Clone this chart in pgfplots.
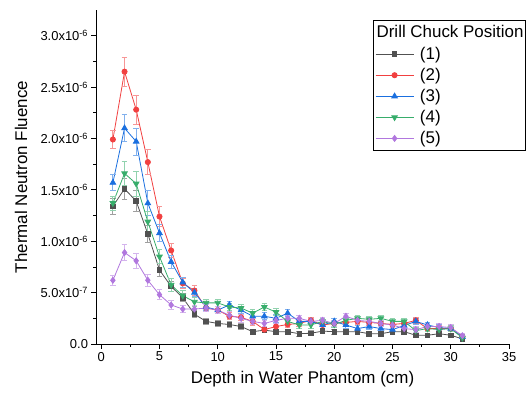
\documentclass[border=0pt]{standalone}
\usepackage{fontspec}
\setmainfont{Liberation Sans}
\usepackage{pgfplots}
\pgfplotsset{compat=1.18}
\usepackage{pgfplotstable}
\definecolor{c1}{HTML}{515151}
\definecolor{c2}{HTML}{F14040}
\definecolor{c3}{HTML}{1A6FDF}
\definecolor{c4}{HTML}{37AD6B}
\definecolor{c5}{HTML}{B177DE}
\pgfplotstableread{
x y e
1 1.34e-6 0.08e-6
2 1.51e-6 0.10e-6
3 1.39e-6 0.10e-6
4 1.07e-6 0.08e-6
5 0.72e-6 0.06e-6
6 0.56e-6 0.05e-6
7 0.45e-6 0.04e-6
8 0.29e-6 0.035e-6
9 0.22e-6 0.03e-6
10 0.20e-6 0.03e-6
11 0.19e-6 0.03e-6
12 0.17e-6 0.03e-6
13 0.12e-6 0.025e-6
14 0.135e-6 0.025e-6
15 0.12e-6 0.025e-6
16 0.12e-6 0.025e-6
17 0.10e-6 0.025e-6
18 0.105e-6 0.025e-6
19 0.125e-6 0.025e-6
20 0.12e-6 0.025e-6
21 0.12e-6 0.025e-6
22 0.12e-6 0.025e-6
23 0.10e-6 0.025e-6
24 0.10e-6 0.025e-6
25 0.12e-6 0.025e-6
26 0.12e-6 0.025e-6
27 0.085e-6 0.02e-6
28 0.085e-6 0.02e-6
29 0.10e-6 0.02e-6
30 0.085e-6 0.02e-6
31 0.05e-6 0.02e-6
}\dataA
\pgfplotstableread{
x y e
1 1.99e-6 0.09e-6
2 2.65e-6 0.14e-6
3 2.28e-6 0.14e-6
4 1.77e-6 0.12e-6
5 1.24e-6 0.10e-6
6 0.91e-6 0.07e-6
7 0.59e-6 0.05e-6
8 0.52e-6 0.05e-6
9 0.35e-6 0.035e-6
10 0.33e-6 0.035e-6
11 0.27e-6 0.035e-6
12 0.26e-6 0.035e-6
13 0.22e-6 0.035e-6
14 0.14e-6 0.03e-6
15 0.17e-6 0.03e-6
16 0.19e-6 0.03e-6
17 0.20e-6 0.03e-6
18 0.23e-6 0.03e-6
19 0.185e-6 0.03e-6
20 0.20e-6 0.03e-6
21 0.21e-6 0.03e-6
22 0.22e-6 0.03e-6
23 0.21e-6 0.03e-6
24 0.20e-6 0.03e-6
25 0.19e-6 0.03e-6
26 0.20e-6 0.03e-6
27 0.23e-6 0.03e-6
28 0.15e-6 0.03e-6
29 0.15e-6 0.03e-6
30 0.15e-6 0.03e-6
31 0.07e-6 0.02e-6
}\dataB
\pgfplotstableread{
x y e
1 1.57e-6 0.08e-6
2 2.10e-6 0.13e-6
3 1.97e-6 0.13e-6
4 1.37e-6 0.12e-6
5 1.08e-6 0.08e-6
6 0.80e-6 0.06e-6
7 0.60e-6 0.05e-6
8 0.50e-6 0.04e-6
9 0.36e-6 0.035e-6
10 0.33e-6 0.035e-6
11 0.38e-6 0.035e-6
12 0.33e-6 0.035e-6
13 0.27e-6 0.035e-6
14 0.27e-6 0.035e-6
15 0.25e-6 0.035e-6
16 0.30e-6 0.035e-6
17 0.22e-6 0.03e-6
18 0.22e-6 0.03e-6
19 0.185e-6 0.03e-6
20 0.22e-6 0.03e-6
21 0.185e-6 0.03e-6
22 0.15e-6 0.03e-6
23 0.17e-6 0.03e-6
24 0.15e-6 0.03e-6
25 0.14e-6 0.03e-6
26 0.18e-6 0.03e-6
27 0.22e-6 0.03e-6
28 0.185e-6 0.03e-6
29 0.16e-6 0.03e-6
30 0.15e-6 0.03e-6
31 0.07e-6 0.02e-6
}\dataC
\pgfplotstableread{
x y e
1 1.37e-6 0.07e-6
2 1.66e-6 0.12e-6
3 1.56e-6 0.12e-6
4 1.19e-6 0.10e-6
5 0.85e-6 0.07e-6
6 0.575e-6 0.06e-6
7 0.47e-6 0.05e-6
8 0.41e-6 0.04e-6
9 0.40e-6 0.035e-6
10 0.40e-6 0.035e-6
11 0.36e-6 0.035e-6
12 0.35e-6 0.035e-6
13 0.30e-6 0.035e-6
14 0.36e-6 0.035e-6
15 0.31e-6 0.035e-6
16 0.22e-6 0.03e-6
17 0.185e-6 0.03e-6
18 0.185e-6 0.03e-6
19 0.22e-6 0.03e-6
20 0.19e-6 0.03e-6
21 0.23e-6 0.03e-6
22 0.25e-6 0.03e-6
23 0.24e-6 0.03e-6
24 0.25e-6 0.03e-6
25 0.22e-6 0.03e-6
26 0.22e-6 0.03e-6
27 0.13e-6 0.03e-6
28 0.15e-6 0.03e-6
29 0.14e-6 0.03e-6
30 0.15e-6 0.03e-6
31 0.06e-6 0.02e-6
}\dataD
\pgfplotstableread{
x y e
1 0.62e-6 0.05e-6
2 0.89e-6 0.08e-6
3 0.81e-6 0.07e-6
4 0.62e-6 0.06e-6
5 0.48e-6 0.05e-6
6 0.38e-6 0.04e-6
7 0.34e-6 0.035e-6
8 0.34e-6 0.035e-6
9 0.35e-6 0.035e-6
10 0.33e-6 0.035e-6
11 0.28e-6 0.035e-6
12 0.25e-6 0.035e-6
13 0.22e-6 0.03e-6
14 0.20e-6 0.03e-6
15 0.23e-6 0.03e-6
16 0.25e-6 0.03e-6
17 0.25e-6 0.03e-6
18 0.22e-6 0.03e-6
19 0.23e-6 0.03e-6
20 0.20e-6 0.03e-6
21 0.27e-6 0.03e-6
22 0.23e-6 0.03e-6
23 0.22e-6 0.03e-6
24 0.20e-6 0.03e-6
25 0.185e-6 0.03e-6
26 0.15e-6 0.03e-6
27 0.14e-6 0.03e-6
28 0.17e-6 0.03e-6
29 0.17e-6 0.03e-6
30 0.16e-6 0.03e-6
31 0.08e-6 0.02e-6
}\dataE
\pgfplotsset{
  ser/.style={#1, line width=0.8bp,
    error bars/.cd, y dir=both, y explicit,
    error bar style={#1!55, line width=0.8bp, solid},
    error mark options={rotate=90, mark size=2.8bp, #1!55, line width=0.8bp}},
}
\begin{document}
\begin{tikzpicture}
\useasboundingbox (-96bp,-52bp) rectangle (432bp,344bp);
\begin{axis}[
  at={(0,0)}, anchor=south west,
  scale only axis, width=413bp, height=334bp,
  xmin=-0.45, xmax=35, ymin=0, ymax=3.25e-6,
  clip=false,
  axis x line*=bottom, axis y line*=left,
  axis line style={line width=0.8bp, -},
  tick align=outside, major tick length=4.5bp, minor tick length=2.5bp,
  tick style={line width=0.8bp, black},
  xtick={0,5,...,35}, minor x tick num=1,
  ytick={0,0.5e-6,1e-6,1.5e-6,2e-6,2.5e-6,3e-6}, minor y tick num=1,
  yticklabels={0.0, 5.0x10\textsuperscript{-7}, 1.0x10\textsuperscript{-6}, 1.5x10\textsuperscript{-6}, 2.0x10\textsuperscript{-6}, 2.5x10\textsuperscript{-6}, 3.0x10\textsuperscript{-6}},
  scaled y ticks=false,
  /pgf/number format/assume math mode=true,
  tick label style={font=\fontsize{13}{15}\selectfont},
  xlabel={Depth in Water Phantom (cm)},
  ylabel={Thermal Neutron Fluence},
  every axis x label/.style={at={(axis description cs:0.5,0)}, anchor=center, yshift=-35bp, font=\fontsize{17}{20}\selectfont},
  every axis y label/.style={at={(axis description cs:-0.1816,0.5)}, rotate=90, anchor=center, font=\fontsize{17}{20}\selectfont},
  legend style={at={(axis description cs:0.6755,0.889)}, anchor=north west,
    draw=none, fill=none, inner sep=0pt, row sep=7.3bp,
    font=\fontsize{17}{20}\selectfont,
    nodes={inner sep=0pt},
    /tikz/every odd column/.append style={column sep=6bp}},
  legend cell align=left,
  legend image code/.code={\draw[#1, mark repeat=2, mark phase=2] plot coordinates {(0bp,0bp) (19bp,0bp) (38bp,0bp)};},
]
\addplot[mark=square*, mark size=2.3bp, ser=c1] table[x=x, y=y, y error=e] {\dataA};
\addlegendentry{(1)}
\addplot[mark=*, mark size=2.6bp, ser=c2] table[x=x, y=y, y error=e] {\dataB};
\addlegendentry{(2)}
\addplot[mark=triangle*, mark size=3.2bp, ser=c3] table[x=x, y=y, y error=e] {\dataC};
\addlegendentry{(3)}
\addplot[mark=triangle*, mark size=3.2bp, mark options={rotate=180}, ser=c4] table[x=x, y=y, y error=e] {\dataD};
\addlegendentry{(4)}
\addplot[mark=diamond*, mark size=3bp, ser=c5] table[x=x, y=y, y error=e] {\dataE};
\addlegendentry{(5)}
\draw[line width=0.6bp, black] (axis description cs:0.6714,0.970) rectangle (axis description cs:1.0404,0.581);
\node[anchor=west, inner sep=0pt, font=\fontsize{17}{20}\selectfont] at (axis description cs:0.679,0.937) {Drill Chuck Position};
\end{axis}
\end{tikzpicture}
\end{document}
